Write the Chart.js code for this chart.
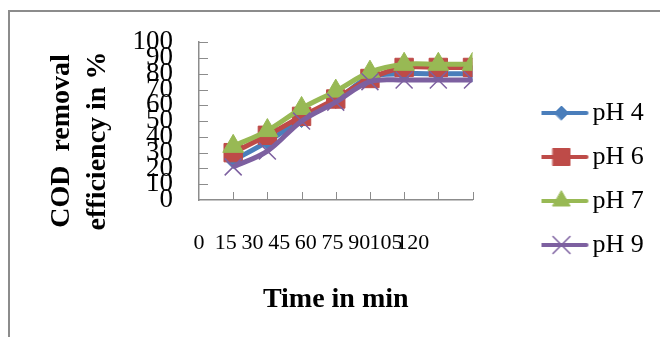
<!DOCTYPE html>
<html><head><meta charset="utf-8">
<script src="https://cdn.jsdelivr.net/npm/chart.js@4"></script>
<style>html,body{margin:0;padding:0;background:#fff}#wrap{width:660px;height:337px;position:relative}</style>
</head><body><div id="wrap"><canvas id="c" width="660" height="337"></canvas></div>
<script>
const timeMin = [15, 30, 45, 60, 75, 90, 105, 120];
const xTickLabels = [0, 15, 30, 45, 60, 75, 90, 105, 120];
const yTickLabels = [0, 10, 20, 30, 40, 50, 60, 70, 80, 90, 100];
const seriesNames = ['pH 4', 'pH 6', 'pH 7', 'pH 9'];
const pH4 = [25, 37, 51, 63, 78, 80, 80, 80];
const pH6 = [30, 41, 53, 64, 77, 84, 84, 84];
const pH7 = [34, 44, 58, 69, 81, 86, 86, 86];
const pH9 = [21, 31, 50, 62, 75, 76, 76, 76];
const xTitle = 'Time in min';
const yTitleLines = ['COD  removal', 'efficiency in %'];

const seriesValues = [pH4, pH6, pH7, pH9];
const colors = ['#4a7ebb', '#be4b48', '#98b954', '#7d60a0'];
const pStyles = ['rectRot', 'rect', 'triangle', 'crossRot'];
const pRadius = [8, 13, 12, 12];
const legRadius = [7, 12, 10, 12];
const axisGray = '#8c8c8c';
const serif = '"Liberation Serif", "Times New Roman", serif';

function legendImage(i) {
  const cv = document.createElement('canvas');
  cv.width = 70; cv.height = 26;
  const g = cv.getContext('2d');
  g.strokeStyle = colors[i]; g.fillStyle = colors[i];
  g.lineWidth = 4; g.lineCap = 'round';
  g.beginPath(); g.moveTo(2, 13); g.lineTo(52, 13); g.stroke();
  g.lineWidth = pStyles[i] === 'crossRot' ? 1.5 : 1;
  Chart.helpers.drawPoint(g, {pointStyle: pStyles[i], radius: legRadius[i], rotation: 0, borderWidth: g.lineWidth}, 27, 13);
  return cv;
}
const legendImgs = seriesNames.map((n, i) => legendImage(i));

const datasets = seriesNames.map((name, i) => ({
  label: name,
  data: timeMin.map((t, k) => ({x: t, y: seriesValues[i][k]})),
  xAxisID: 'x', yAxisID: 'y',
  borderColor: colors[i], backgroundColor: colors[i],
  borderWidth: 5, tension: 0.35,
  pointStyle: pStyles[i], pointRadius: pRadius[i],
  pointBackgroundColor: colors[i], pointBorderColor: colors[i],
  pointBorderWidth: pStyles[i] === 'crossRot' ? 1.5 : 1,
  order: 3 - i
}));

const frame = {
  id: 'frame',
  beforeDraw(chart) {
    const c = chart.ctx; c.save();
    c.strokeStyle = axisGray; c.lineWidth = 2;
    c.strokeRect(9, 11, 700, 400);
    c.restore();
  }
};
const innerTicks = {
  id: 'innerTicks',
  beforeDatasetsDraw(chart) {
    const c = chart.ctx, xs = chart.scales.x, ys = chart.scales.y, a = chart.chartArea;
    c.save(); c.strokeStyle = axisGray; c.lineWidth = 1;
    c.beginPath();
    xs.ticks.forEach(t => { if (t.value > 0) { const px = Math.round(xs.getPixelForValue(t.value)) + 0.5; c.moveTo(px, a.bottom); c.lineTo(px, a.bottom - 8); } });
    ys.ticks.forEach(t => { if (t.value > 0) { const py = Math.round(ys.getPixelForValue(t.value)) + 0.5; c.moveTo(a.left, py); c.lineTo(a.left + 9, py); } });
    c.stroke(); c.restore();
  }
};
const yTitle = {
  id: 'yTitle',
  afterDraw(chart) {
    const c = chart.ctx; c.save();
    c.font = 'bold 28px ' + serif; c.fillStyle = '#000';
    c.textAlign = 'center'; c.textBaseline = 'middle';
    yTitleLines.forEach((s, i) => {
      c.save(); c.translate(62 + i * 36, 141); c.rotate(-Math.PI / 2); c.fillText(s, 0, 0); c.restore();
    });
    c.restore();
  }
};

new Chart(document.getElementById('c'), {
  type: 'line',
  data: {datasets},
  plugins: [frame, innerTicks, yTitle],
  options: {
    responsive: false, animation: false,
    layout: {padding: {left: 0, top: 40, right: 10.2, bottom: 19}},
    scales: {
      x: {
        type: 'linear', position: 'bottom', min: 0, max: 120,
        afterBuildTicks: s => { s.ticks = xTickLabels.map(v => ({value: v})); },
        afterFit: s => { s.height = 0; },
        ticks: {display: false},
        grid: {display: false},
        border: {display: true, color: axisGray, width: 1.5}
      },
      x2: {
        type: 'linear', position: 'bottom', min: 0, max: 153.6,
        afterBuildTicks: s => { s.ticks = xTickLabels.map(v => ({value: v})); },
        afterFit: s => { s.height = 118; },
        ticks: {autoSkip: false, maxRotation: 0, minRotation: 0, padding: 30, color: '#000', font: {family: serif, size: 22}},
        grid: {display: false, drawTicks: false},
        border: {display: false},
        title: {display: true, text: xTitle, color: '#000', font: {family: serif, size: 28, weight: 'bold'}, padding: {top: 0, bottom: 1}}
      },
      y: {
        type: 'linear', position: 'left', min: 0, max: 100,
        afterBuildTicks: s => { s.ticks = yTickLabels.map(v => ({value: v})); },
        afterFit: s => { s.width = 199; },
        ticks: {autoSkip: false, padding: 26, color: '#000', font: {family: serif, size: 27}},
        grid: {display: false, drawTicks: false},
        border: {display: true, color: axisGray, width: 1.5}
      },
      yR: {
        type: 'linear', position: 'right', display: true,
        afterFit: s => { s.width = 69; },
        ticks: {display: false},
        grid: {display: false},
        border: {display: false}
      }
    },
    plugins: {
      tooltip: {enabled: false},
      legend: {
        position: 'right', align: 'center',
        labels: {
          usePointStyle: true, pointStyleWidth: 20, padding: 18, color: '#000',
          font: {family: serif, size: 26},
          generateLabels: chart => chart.data.datasets.map((ds, i) => ({
            text: ds.label, pointStyle: legendImgs[i], fillStyle: colors[i], strokeStyle: colors[i],
            lineWidth: 0, hidden: false, datasetIndex: i, fontColor: '#000'
          }))
        }
      }
    }
  }
});
</script></body></html>
